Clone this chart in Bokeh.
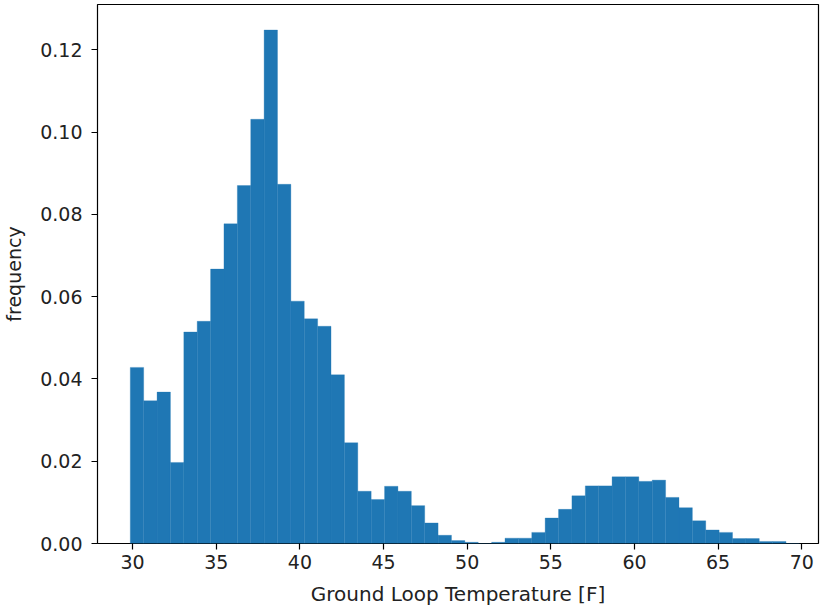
import numpy as np
from bokeh.plotting import figure
from bokeh.models import ColumnDataSource, Range1d, FixedTicker, PrintfTickFormatter
from bokeh.embed import file_html
from bokeh.resources import INLINE

# Histogram of ground loop temperature (density), 50 bins
bin_start = 29.86
bin_width = 0.8
frequency = [
    0.0428, 0.0347, 0.0368, 0.0197, 0.0514, 0.0540, 0.0667, 0.0777, 0.0870, 0.1031,
    0.1248, 0.0873, 0.0589, 0.0546, 0.0528, 0.0410, 0.0245, 0.0127, 0.0107, 0.0139,
    0.0127, 0.0092, 0.0050, 0.0020, 0.0007, 0.0003, 0.0000, 0.0003, 0.0013, 0.0013,
    0.0027, 0.0062, 0.0083, 0.0116, 0.0140, 0.0140, 0.0162, 0.0162, 0.0151, 0.0154,
    0.0112, 0.0087, 0.0055, 0.0033, 0.0027, 0.0012, 0.0012, 0.0005, 0.0005, 0.0000,
]
x_ticks = [30, 35, 40, 45, 50, 55, 60, 65, 70]
y_ticks = [0.00, 0.02, 0.04, 0.06, 0.08, 0.10, 0.12]

n = len(frequency)
left = [bin_start + i * bin_width for i in range(n)]
right = [bin_start + (i + 1) * bin_width for i in range(n)]
src = ColumnDataSource(dict(left=left, right=right, top=frequency, bottom=[0.0] * n))

p = figure(width=821, height=609, output_backend="svg", toolbar_location=None,
           x_range=Range1d(27.9, 71.0), y_range=Range1d(0, 0.131))
p.min_border_left = 97
p.min_border_right = 3
p.min_border_top = 4
p.min_border_bottom = 66

p.quad(left="left", right="right", top="top", bottom="bottom", source=src,
       fill_color="#1f77b4", line_color="#1f77b4", line_width=0.3)

p.xgrid.visible = False
p.ygrid.visible = False
p.outline_line_color = "black"
p.outline_line_width = 1.2
p.background_fill_color = "white"
p.border_fill_color = "white"

font = "DejaVu Sans"
for ax in (p.xaxis[0], p.yaxis[0]):
    ax.axis_line_color = None
    ax.major_tick_line_color = "black"
    ax.major_tick_line_width = 1.2
    ax.major_tick_out = 6
    ax.major_tick_in = 0
    ax.minor_tick_line_color = None
    ax.major_label_text_font = font
    ax.major_label_text_font_size = "19px"
    ax.major_label_text_color = "#222222"
    ax.axis_label_text_font = font
    ax.axis_label_text_font_size = "19px"
    ax.axis_label_text_font_style = "normal"
    ax.axis_label_text_color = "#222222"

p.xaxis.ticker = FixedTicker(ticks=x_ticks)
p.yaxis.ticker = FixedTicker(ticks=y_ticks)
p.yaxis.formatter = PrintfTickFormatter(format="%.2f")
p.xaxis.axis_label = "Ground Loop Temperature [F]"
p.yaxis.axis_label = "frequency"
p.xaxis.axis_label_text_font_size = "20px"
p.xaxis.major_label_standoff = 5
p.yaxis.major_label_standoff = 9
p.xaxis.axis_label_standoff = 10
p.yaxis.axis_label_standoff = 12

open("out.html", "w").write(file_html(p, INLINE))
